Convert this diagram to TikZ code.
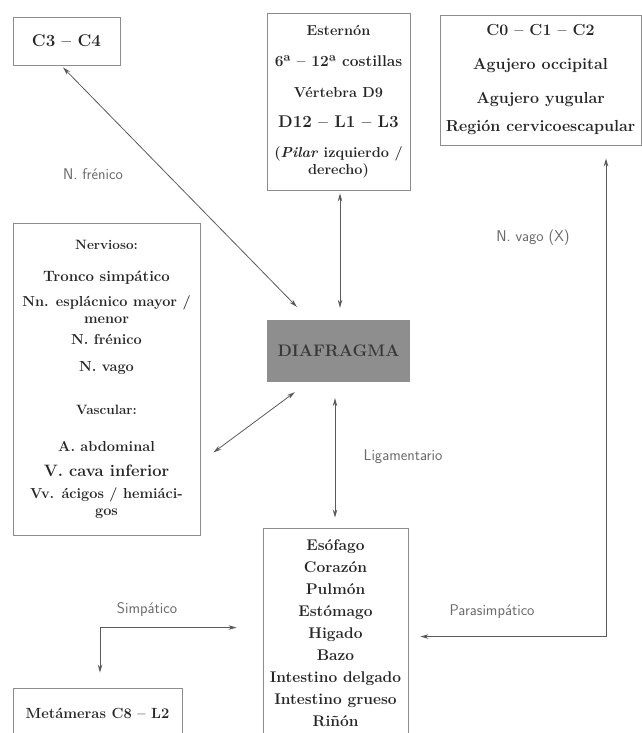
\documentclass[tikz,border=0pt]{standalone}
\usepackage{tikz}
\usetikzlibrary{arrows.meta,calc}

\definecolor{boxgray}{HTML}{8C8C8C}
\definecolor{linegray}{HTML}{5A5A5A}
\definecolor{diagray}{HTML}{8E8E8E}
\definecolor{diatext}{HTML}{383838}
\definecolor{labelgray}{HTML}{6A6A6A}

\tikzset{
  box/.style={draw=boxgray, line width=0.9pt, align=center, inner sep=0pt, text=black!85},
  link/.style={{Stealth[length=8pt,width=4.5pt]}-{Stealth[length=8pt,width=4.5pt]}, linegray, line width=0.8pt},
  tag/.style={font=\sffamily\fontsize{15.5}{17}\selectfont, text=labelgray},
}

\begin{document}
\begin{tikzpicture}[x=1pt,y=-1pt]
  \useasboundingbox (0,0) rectangle (642,733);
  \clip (0,0) rectangle (642,733);

  % boxes
  \node[box, minimum width=107pt, minimum height=48pt, font=\bfseries\fontsize{17}{18}\selectfont] (c34) at (66.5,41) {C3 -- C4};
  \node[box, minimum width=143pt, minimum height=177pt, font=\bfseries\fontsize{14.5}{17}\selectfont] (ester) at (338.5,101.5)
    {Esternón\\[14pt]
     \fontsize{15.5}{17}\selectfont 6ª -- 12ª costillas\\[14pt]
     Vértebra D9\\[13pt]
     \fontsize{17}{17}\selectfont D12 -- L1 -- L3\\[13pt]
     (\textit{Pilar} izquierdo /\\ derecho)};
  \node[box, minimum width=201pt, minimum height=130pt, font=\bfseries\fontsize{16}{28}\selectfont] (c0) at (540.5,80)
    {C0 -- C1 -- C2\\[6pt] Agujero occipital\\[6pt] Agujero yugular\\ Región cervicoescapular};
  \node[box, minimum width=187pt, minimum height=312pt, font=\bfseries\fontsize{14.5}{17}\selectfont] (nerv) at (106.5,379)
    {\fontsize{13.5}{17}\selectfont Nervioso:\\[15pt]
     \fontsize{15}{17}\selectfont Tronco simpático\\[8pt]
     Nn. esplácnico mayor /\\ menor\\[4pt]
     N. frénico\\[10pt]
     N. vago\\[26pt]
     \fontsize{13.5}{17}\selectfont Vascular:\\[20pt]
     A. abdominal\\[8pt]
     \fontsize{16.5}{17}\selectfont V. cava inferior\\[5pt]
     Vv. ácigos / hemiáci-\\ gos};
  \node[minimum width=143pt, minimum height=62pt, inner sep=0pt, fill=diagray,
        font=\bfseries\fontsize{16.7}{18}\selectfont, text=diatext] (dia) at (338.5,351) {DIAFRAGMA};
  \node[box, minimum width=145pt, minimum height=210pt, font=\bfseries\fontsize{15.5}{22}\selectfont] (org) at (335.5,633)
    {Esófago\\ Corazón\\ Pulmón\\ Estómago\\ Higado\\ Bazo\\ Intestino delgado\\ Intestino grueso\\ Riñón};
  \node[box, minimum width=169pt, minimum height=50pt, font=\bfseries\fontsize{14.7}{16}\selectfont] (met) at (97.5,713) {Metámeras C8 -- L2};

  % connectors
  \draw[link] ($(c34.south)+(-3.5,2)$) -- ($(dia.north west)+(30,-13)$);
  \draw[link] ($(ester.south)+(1.5,3)$) -- ($(dia.north)+(1.5,-12)$);
  \draw[link] ($(nerv.south east)+(13,-83)$) -- ($(dia.south west)+(28,10)$);
  \draw[link] ($(dia.south)+(-3.5,16)$) -- ($(org.north)+(-0.5,-10)$);
  \draw[link] ($(c0.south)+(65.5,13)$) |- ($(org.north east)+(12,109)$);
  \draw[link] ($(org.north west)+(-26,100)$) -| ($(met.north)+(2.5,-15)$);

  % labels
  \node[tag] (frenico) at (93,174) {N. frénico};
  \node[tag] (vago) at (533,238) {N. vago (X)};
  \node[tag] (ligam) at (403,457) {Ligamentario};
  \node[tag] (simpa) at (147,610) {Simpático};
  \node[tag] (parasimpa) at (492,612) {Parasimpático};
\end{tikzpicture}
\end{document}
